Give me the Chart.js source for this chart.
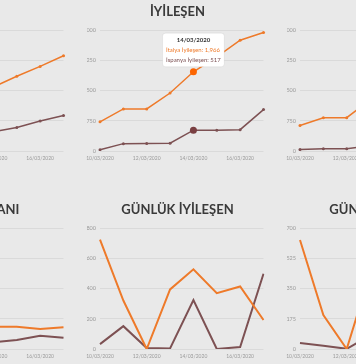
<!DOCTYPE html>
<html><head><meta charset="utf-8">
<script src="https://cdn.jsdelivr.net/npm/chart.js@4"></script>
<style>
html,body{margin:0;padding:0;background:#e9e9e9;width:356px;height:364px;overflow:hidden;position:relative;}
.c{position:absolute;width:188px;height:174px;}
</style></head><body>
<div class="c" style="left:-120px;top:0"><canvas id="c0"></canvas></div>
<div class="c" style="left:80px;top:0"><canvas id="c1"></canvas></div>
<div class="c" style="left:280px;top:0"><canvas id="c2"></canvas></div>
<div class="c" style="left:-120px;top:198px"><canvas id="c3"></canvas></div>
<div class="c" style="left:80px;top:198px"><canvas id="c4"></canvas></div>
<div class="c" style="left:280px;top:198px"><canvas id="c5"></canvas></div>
<script>
const dates = ['10/03/2020','11/03/2020','12/03/2020','13/03/2020','14/03/2020','15/03/2020','16/03/2020','17/03/2020'];
const titles = ['VAKA','İYİLEŞEN','ÖLÜM','ÖLÜM ORANI','GÜNLÜK İYİLEŞEN','GÜNLÜK ÖLÜM'];
const italyCases = [10149, 12462, 15113, 17660, 21157, 24747, 27980, 31506];
const spainCases = [1695, 2277, 3146, 5232, 6391, 7798, 9942, 11748];
const italyRecovered = [724, 1045, 1045, 1439, 1966, 2335, 2749, 2941];
const spainRecovered = [32, 183, 189, 193, 517, 517, 530, 1028];
const italyDeaths = [631, 827, 827, 1266, 1441, 1809, 2158, 2503];
const spainDeaths = [35, 54, 55, 133, 195, 289, 342, 533];
const italyDeathRate = [6.2, 6.6, 5.5, 7.2, 7.4, 7.4, 6.6, 7.2];
const spainDeathRate = [2.1, 2.4, 1.7, 2.5, 2.2, 3.0, 4.4, 3.7];
const italyDailyRecovered = [724, 321, 0, 394, 527, 369, 414, 192];
const spainDailyRecovered = [32, 151, 6, 4, 324, 0, 13, 498];
const italyDailyDeaths = [631, 196, 0, 439, 175, 368, 349, 345];
const spainDailyDeaths = [35, 19, 1, 78, 62, 94, 53, 191];
const yMaxes = [40000, 3000, 3000, 40, 800, 700];
const ySteps = [10000, 750, 750, 10, 200, 175];
const seriesNames = [['İtalya Vaka','İspanya Vaka'],['İtalya İyileşen','İspanya İyileşen'],['İtalya Ölüm','İspanya Ölüm'],
  ['İtalya Ölüm Oranı','İspanya Ölüm Oranı'],['İtalya Günlük İyileşen','İspanya Günlük İyileşen'],['İtalya Günlük Ölüm','İspanya Günlük Ölüm']];
const seriesData = [[italyCases,spainCases],[italyRecovered,spainRecovered],[italyDeaths,spainDeaths],
  [italyDeathRate,spainDeathRate],[italyDailyRecovered,spainDailyRecovered],[italyDailyDeaths,spainDailyDeaths]];

const ORANGE = '#ee7a2a', BROWN = '#7d5153';
const FONT = 'Lato, "Open Sans", sans-serif';

const charts = [];
for (let k = 0; k < 6; k++) {
  const top = k < 3;
  const mk = (i) => ({
    label: seriesNames[k][i],
    data: seriesData[k][i],
    borderColor: i === 0 ? ORANGE : BROWN,
    backgroundColor: i === 0 ? ORANGE : BROWN,
    borderWidth: top ? 1.5 : 2,
    pointRadius: top ? 1.5 : 0,
    pointHoverRadius: top ? 3.5 : 0,
    pointBorderWidth: 0,
    pointHoverBorderWidth: 0,
    tension: 0,
    fill: false
  });
  charts.push(new Chart(document.getElementById('c' + k), {
    type: 'line',
    data: { labels: dates, datasets: [mk(0), mk(1)] },
    options: {
      responsive: true, maintainAspectRatio: false, animation: false,
      events: [],
      layout: { padding: { left: 7, right: 0, top: 0, bottom: 8 } },
      plugins: {
        legend: { display: false },
        title: { display: true, text: titles[k], color: '#3a3a3a',
          font: { family: FONT, size: 13, weight: 'bold' }, padding: { top: 4, bottom: 10.5 } },
        tooltip: {
          enabled: true, mode: 'index', intersect: false, position: 'nearest',
          yAlign: 'bottom', xAlign: 'center',
          backgroundColor: '#ffffff', titleColor: '#333', titleAlign: 'center', bodyAlign: 'left',
          titleFont: { family: FONT, size: 6, weight: 'bold' }, bodyFont: { family: FONT, size: 6 },
          titleMarginBottom: 3, bodySpacing: 2, padding: 3.5, cornerRadius: 3,
          caretSize: 0, caretPadding: 5, displayColors: false,
          borderColor: 'rgba(0,0,0,0.06)', borderWidth: 1,
          callbacks: { labelTextColor: (ctx) => ctx.datasetIndex === 0 ? ORANGE : BROWN }
        }
      },
      scales: {
        x: {
          grid: { display: false, drawTicks: false }, border: { display: false },
          ticks: { autoSkip: false, maxRotation: 0, padding: 4.5, color: '#9a9a9a',
            font: { family: FONT, size: 5 },
            callback: function (v, i) { return i % 2 === 0 ? this.getLabelForValue(v) : ''; } }
        },
        y: {
          min: 0, max: yMaxes[k],
          grid: { color: '#dadada', drawTicks: false, lineWidth: 1 }, border: { display: false },
          ticks: { stepSize: ySteps[k], padding: 4, color: '#9a9a9a', font: { family: FONT, size: 5.5 } },
          afterFit: (s) => { s.width = 13; }
        }
      }
    }
  }));
}
const ch = charts[1];
const act = [{ datasetIndex: 0, index: 4 }, { datasetIndex: 1, index: 4 }];
ch.setActiveElements(act);
const pt = ch.getDatasetMeta(0).data[4];
ch.tooltip.setActiveElements(act, { x: pt.x, y: pt.y });
ch.update();
</script>
</body></html>
